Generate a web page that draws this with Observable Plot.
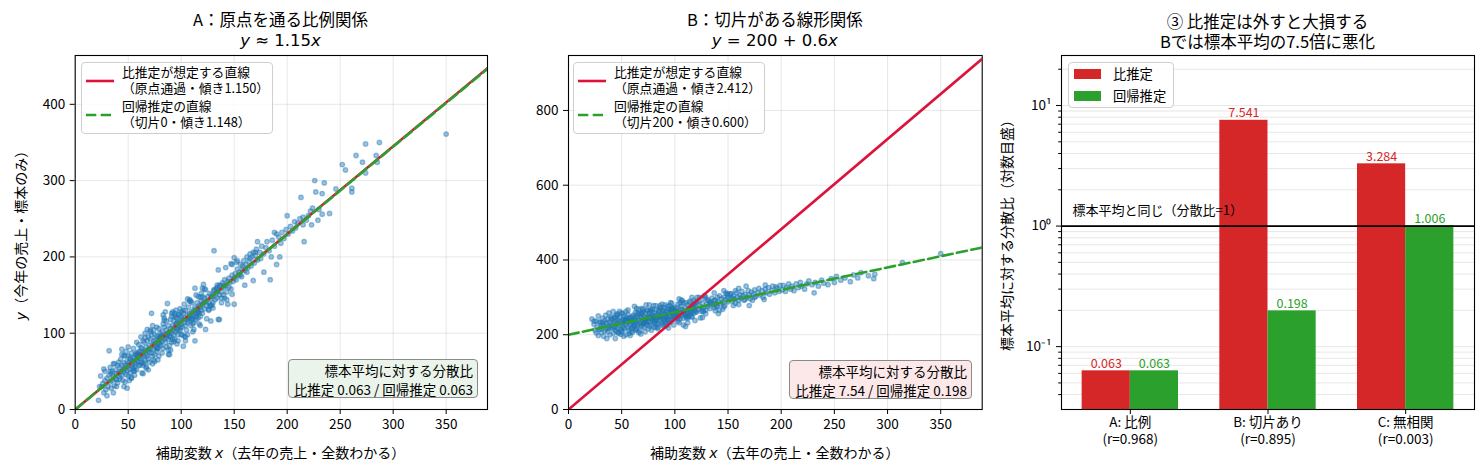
<!DOCTYPE html>
<html><head><meta charset="utf-8">
<script src="https://cdn.jsdelivr.net/npm/d3@7"></script>
<script src="https://cdn.jsdelivr.net/npm/@observablehq/plot@0.6"></script>
<style>
body{margin:0;background:#fff;font-family:"Noto Sans CJK JP",sans-serif;color:#000;}
#root{position:relative;width:1484px;height:473px;overflow:hidden;}
.p{position:absolute;top:0;}
.t{position:absolute;transform:translate(-50%,-50%);white-space:nowrap;line-height:1;}
.ttl{font-size:16.5px;}
.math{font-family:"DejaVu Sans";font-size:16.5px;}
.m{font-family:"DejaVu Sans";font-style:italic;}
.lab{font-size:14px;}
.rot{transform:translate(-50%,-50%) rotate(-90deg);}
.legend{position:absolute;border:1px solid #cfcfcf;border-radius:4px;background:rgba(255,255,255,0.85);font-size:12.8px;line-height:16px;}
.legend .row{position:absolute;white-space:nowrap;}
.note{position:absolute;border:1px solid #8a8a8a;border-radius:4px;font-size:13.5px;line-height:18.5px;text-align:right;box-sizing:border-box;padding:1px 4px 0 0;white-space:nowrap;}
</style></head><body><div id="root"></div><script>
// ---------- data ----------
const titlesA = ["A：原点を通る比例関係", "<i>y</i> ≈ 1.15<i>x</i>"];
const titlesB = ["B：切片がある線形関係", "<i>y</i> = 200 + 0.6<i>x</i>"];
const titlesC = ["③ 比推定は外すと大損する", "Bでは標本平均の7.5倍に悪化"];
const xLabel = "補助変数 <span class='m'>x</span>（去年の売上・全数わかる）";
const yLabelA = "<span class='m'>y</span>（今年の売上・標本のみ）";
const yLabelC = "標本平均に対する分散比（対数目盛）";

const xTicks = [0, 50, 100, 150, 200, 250, 300, 350];
const yTicksA = [0, 100, 200, 300, 400];
const yTicksB = [0, 200, 400, 600, 800];

// fitted lines: [slope, intercept]
const ratioLineA = [1.150, 0];
const regLineA = [1.148, 0];
const ratioLineB = [2.412, 0];
const regLineB = [0.600, 200];

const legendA = [["比推定が想定する直線", "（原点通過・傾き1.150）"], ["回帰推定の直線", "（切片0・傾き1.148）"]];
const legendB = [["比推定が想定する直線", "（原点通過・傾き2.412）"], ["回帰推定の直線", "（切片200・傾き0.600）"]];
const noteA = ["標本平均に対する分散比", "比推定 0.063 / 回帰推定 0.063"];
const noteB = ["標本平均に対する分散比", "比推定 7.54 / 回帰推定 0.198"];

const groupsC = ["A: 比例", "B: 切片あり", "C: 無相関"];
const rValues = [0.968, 0.895, 0.003];
const ratioVar = [0.063, 7.541, 3.284];
const regVar = [0.063, 0.198, 1.006];
const seriesC = ["比推定", "回帰推定"];
const refLabel = "標本平均と同じ（分散比=1）";

const scatterA = [
[22,12],[24,44],[25,30],[27,22],[28,38],[29,26],[30,41],[31,30],[32,77],[32,45],[33,36],[34,28],[35,50],[35,38],[36,44],[37,31],[38,52],[38,40],[39,47],[40,35],[40,58],[26,34],[30,18],[34,47],[37,60],[39,30],[23,30],[36,22],[33,55],[28,50],
[41,48],[41,62],[42,40],[42,55],[43,50],[43,66],[44,45],[44,58],[45,52],[45,38],[46,61],[46,49],[47,54],[47,70],[48,46],[48,58],[49,63],[49,51],[50,57],[50,44],[50,70],[51,62],[51,53],[52,48],[52,66],[53,59],[53,74],[54,55],[54,64],[55,68],[55,50],[55,80],[56,62],[56,56],[57,71],[57,60],[58,52],[58,66],[59,75],[59,63],[60,58],[60,70],[60,85],[51,38],[56,45],[44,72],[48,76],[58,88],[53,42],[46,30],
[61,67],[61,76],[62,62],[62,72],[63,80],[63,68],[64,58],[64,75],[65,70],[65,88],[66,77],[66,64],[67,82],[67,72],[68,70],[68,90],[69,78],[69,66],[70,84],[70,75],[70,62],[71,80],[71,92],[72,126],[72,74],[73,85],[73,70],[74,90],[74,79],[75,86],[75,72],[75,98],[76,82],[76,91],[77,76],[77,96],[78,88],[78,80],[79,94],[79,70],[80,86],[80,100],[80,92],[62,95],[66,100],[69,52],[73,60],[77,108],[64,90],[71,104],[78,65],[67,54],[74,104],[79,106],[63,48],
[81,95],[81,84],[82,102],[82,90],[83,96],[83,80],[84,92],[84,108],[85,98],[85,88],[86,104],[86,94],[87,139],[87,100],[88,92],[88,110],[89,102],[89,96],[90,106],[90,95],[90,118],[91,100],[91,88],[92,110],[92,104],[93,98],[93,116],[94,108],[94,92],[95,112],[95,102],[96,120],[96,106],[97,98],[97,114],[98,110],[98,124],[99,104],[99,116],[100,112],[100,122],[100,98],[84,120],[88,78],[92,128],[96,86],[99,132],[86,116],[94,126],[82,74],[91,122],[97,90],[83,112],[89,84],[95,130],
[101,118],[101,108],[102,83],[102,126],[103,114],[103,120],[104,110],[104,130],[105,118],[105,104],[106,124],[106,114],[107,120],[107,134],[108,116],[108,126],[109,122],[109,110],[110,128],[110,118],[110,140],[111,124],[111,112],[112,130],[112,121],[113,90],[113,134],[114,126],[114,118],[115,132],[115,140],[116,128],[116,120],[117,136],[117,126],[118,134],[118,122],[119,142],[119,130],[120,138],[120,126],[104,95],[108,142],[112,105],[116,148],[106,98],[118,110],[103,138],[114,150],[120,148],
[121,140],[122,132],[122,146],[123,105],[124,142],[124,136],[125,148],[126,140],[126,130],[127,152],[128,146],[128,136],[129,150],[130,148],[130,140],[131,208],[131,156],[132,144],[133,152],[134,160],[134,146],[135,118],[135,156],[136,150],[137,162],[138,154],[138,146],[139,166],[140,160],[140,150],[141,170],[142,162],[143,154],[144,168],[145,160],[145,172],[146,166],[147,158],[148,176],[149,168],[150,138],[150,172],[136,118],[142,186],[148,190],
[151,178],[152,170],[153,184],[154,176],[155,180],[156,190],[157,174],[158,184],[159,195],[160,182],[161,190],[162,200],[163,186],[164,194],[165,198],[166,188],[167,200],[168,206],[169,192],[170,202],[171,210],[172,196],[174,206],[175,198],[176,214],[178,204],[180,212],[181,220],[183,208],[184,170],[186,222],[188,214],[190,190],[192,226],[194,218],[195,232],[197,224],[199,236],[193,200],[188,232],
[201,230],[203,240],[205,234],[207,246],[208,238],[210,244],[212,250],[213,278],[215,252],[216,220],[218,248],[220,254],[222,260],[223,242],[224,264],[226,300],[227,285],[229,248],[230,262],[233,256],[233,283],[235,297],[240,257],[246,289],[252,321],[255,314],[261,290],[261,285],[265,333],[271,324],[274,348],[274,310],[284,333],[285,324],[287,350],[350,361],
[33,50],[47,36],[58,72],[64,47],[71,102],[77,80],[85,128],[92,92],[96,113],[103,96],[109,142],[115,126],[121,164],[128,116],[134,163],[141,146],[147,191],[156,176],[165,204],[178,180],
[52,68],[61,58],[68,105],[74,65],[81,97],[88,72],[94,123],[99,107],[106,145],[112,114],[118,147],[124,119],[131,157],[138,140],[44,79],[55,53],[66,94],[79,87],[90,78],[100,128],
[110,119],[120,159],[130,133],[140,163],[150,199],[160,163],[170,206],[185,200],[200,254],[215,242],[36,60],[49,28],[57,73],[63,61],[69,95],[75,63],[83,124],[87,98],[93,89],[98,125],
[104,90],[108,144],[114,122],[119,152],[126,131],[133,158],[143,144],[152,193],[162,180],[172,220],
[27,53],[39,39],[46,71],[53,41],[59,73],[65,61],[72,98],[78,81],[84,117],[89,72],[95,121],[101,98],[107,121],[113,159],[117,112],[123,157],[129,137],[136,163],[144,138],[153,195],
[42,43],[50,82],[56,51],[62,81],[67,56],[73,110],[80,94],[86,82],[91,126],[97,104],[102,130],[111,102],[116,129],[122,158],[127,136],[135,183],[148,151],[158,188],[168,169],[190,230]
];

const scatterB = [
[22,242],[24,228],[25,212],[26,236],[27,220],[28,198],[28,250],[29,214],[30,232],[31,206],[32,244],[33,224],[33,196],[34,238],[35,216],[35,252],[36,230],[37,208],[37,242],[38,222],[39,234],[39,200],[40,226],[40,248],[26,205],[31,226],[36,190],[38,258],[30,216],[34,210],
[41,218],[41,240],[42,230],[42,204],[43,246],[43,222],[44,236],[44,212],[45,228],[45,252],[46,218],[46,240],[47,232],[47,206],[48,246],[48,224],[49,236],[49,214],[50,230],[50,258],[50,208],[51,240],[51,222],[52,234],[52,250],[53,216],[53,242],[54,228],[54,200],[55,246],[55,232],[56,220],[56,254],[57,236],[57,212],[58,244],[58,226],[59,238],[59,218],[60,248],[60,230],[60,206],[44,190],[48,262],[52,196],[56,266],[58,198],[46,256],[54,262],[42,262],
[61,236],[61,252],[62,226],[62,244],[63,238],[63,260],[64,232],[64,214],[65,248],[65,226],[66,240],[66,256],[67,230],[67,210],[68,246],[68,236],[69,222],[69,256],[70,242],[70,230],[70,262],[71,248],[71,220],[72,238],[72,258],[73,232],[73,244],[74,226],[74,264],[75,250],[75,236],[75,216],[76,244],[76,258],[77,234],[77,248],[78,226],[78,262],[79,240],[79,252],[80,236],[80,248],[80,220],[62,276],[66,206],[69,270],[72,208],[76,280],[78,212],[64,270],[73,280],[68,202],[79,268],[63,212],[71,230],
[81,244],[81,258],[82,236],[82,252],[83,266],[83,242],[84,230],[84,254],[85,246],[85,262],[86,238],[86,250],[87,270],[87,244],[88,256],[88,232],[89,248],[89,264],[90,240],[90,256],[90,272],[91,250],[91,234],[92,262],[92,246],[93,254],[93,276],[94,240],[94,262],[95,252],[95,232],[96,266],[96,248],[97,258],[97,240],[98,270],[98,252],[99,246],[99,262],[100,256],[100,242],[100,274],[84,216],[88,282],[92,224],[96,286],[99,226],[86,278],[94,218],[82,220],[91,280],[97,284],[83,228],[89,224],[95,278],
[101,262],[101,248],[102,270],[102,254],[103,244],[103,282],[104,260],[104,250],[105,268],[105,242],[106,258],[106,276],[107,252],[107,266],[108,286],[108,244],[109,262],[109,256],[110,272],[110,250],[111,264],[111,246],[112,280],[112,258],[113,268],[113,252],[114,262],[114,290],[115,256],[115,274],[116,264],[116,248],[117,280],[117,270],[118,258],[118,292],[119,266],[119,276],[120,260],[120,284],[122,268],[123,290],[124,276],[125,262],[126,284],[127,272],[128,296],[129,266],[130,282],[108,226],[112,232],[104,296],[116,300],[110,222],[121,300],[126,246],[119,238],[129,300],
[131,276],[132,290],[133,270],[134,284],[135,298],[136,280],[137,272],[138,292],[139,284],[140,300],[140,276],[141,288],[142,304],[143,282],[144,296],[145,286],[146,300],[147,278],[148,294],[149,308],[150,288],[150,300],[152,296],[153,310],[154,290],[155,304],[156,296],[157,284],[158,312],[159,300],[160,292],[161,306],[162,298],[163,316],[164,304],[165,292],[166,308],[168,300],[169,318],[170,306],[171,296],[172,314],[174,308],[175,320],[176,302],[178,312],[179,324],[180,306],[182,318],[183,300],[185,322],[186,312],[188,326],[189,308],[191,318],[192,330],[194,312],[196,324],[198,316],[199,332],[137,312],[146,318],[160,324],[167,330],[155,278],[145,268],[173,292],[184,294],
[201,320],[202,332],[204,316],[205,326],[207,336],[209,322],[210,330],[212,318],[214,336],[216,326],[218,340],[219,330],[222,322],[224,336],[226,344],[229,334],[231,312],[232,340],[235,330],[238,346],[240,338],[244,334],[247,350],[250,340],[252,356],[256,346],[260,352],[265,342],[268,360],[272,352],[275,366],[282,358],[287,350],[288,362],[314,393],[350,417],
[29,234],[43,220],[51,256],[57,203],[63,247],[68,225],[74,266],[79,244],[85,265],[91,230],[96,266],[102,249],[107,291],[113,248],[118,275],[124,245],[131,294],[139,276],[148,312],[160,281],
[35,232],[47,204],[54,238],[60,217],[66,268],[71,233],[77,264],[83,246],[88,227],[94,269],[99,251],[105,284],[111,250],[117,272],[123,300],[129,256],[137,292],[146,275],[157,318],[175,300],
[40,243],[49,201],[56,241],[62,226],[69,257],[76,223],[82,278],[87,250],[93,238],[98,271],[104,232],[110,286],[115,260],[121,288],[127,262],[134,285],[142,265],[152,309],[166,294],[185,333],
[32,231],[45,209],[53,237],[59,208],[65,259],[72,234],[80,278],[90,240],[101,264],[116,248],
[24,236],[37,216],[44,244],[50,210],[55,238],[61,223],[67,255],[73,235],[78,267],[84,220],[89,265],[95,239],[100,258],[106,293],[112,244],[119,287],[126,265],[133,287],[141,257],[150,309],
[39,218],[46,252],[52,218],[58,245],[64,217],[70,268],[75,247],[81,232],[86,273],[92,247],[97,271],[103,236],[109,261],[114,286],[120,262],[128,305],[138,264],[154,298],[170,278],[195,328]
];

// ---------- styling constants ----------
const BLUE = "#1f77b4", CRIMSON = "#dc143c", GREEN = "#2ca02c", BAR_RED = "#d62728";
const xDom = [0, 389];
const baseStyle = {fontFamily: "Noto Sans CJK JP", fontSize: "13.5px", color: "#000", background: "transparent", overflow: "visible"};
const gridOpts = {stroke: "#b0b0b0", strokeOpacity: 0.35, strokeWidth: 0.9};

const root = document.getElementById("root");
function place(el, left) { el.classList.add("p"); el.style.left = left + "px"; root.appendChild(el); }
function addHTML(html) { root.insertAdjacentHTML("beforeend", html); }

function scatterPanel(points, yDom, yTicks, ratioCoef, regCoef, mLeft, mRight) {
  const lineData = c => xDom.map(x => ({x, y: c[1] + c[0] * x}));
  return Plot.plot({
    width: 500, height: 473,
    marginLeft: mLeft, marginRight: mRight, marginTop: 55, marginBottom: 64,
    style: baseStyle,
    x: {domain: xDom, ticks: xTicks, label: null, tickSize: 5, tickPadding: 5},
    y: {domain: yDom, ticks: yTicks, label: null, tickSize: 5, tickPadding: 5},
    marks: [
      Plot.gridX(xTicks, gridOpts),
      Plot.gridY(yTicks, gridOpts),
      Plot.dot(points, {x: d => d[0], y: d => d[1], r: 2.3, fill: BLUE, fillOpacity: 0.44, stroke: BLUE, strokeOpacity: 0.44, strokeWidth: 1.3}),
      Plot.line(lineData(ratioCoef), {x: "x", y: "y", stroke: CRIMSON, strokeWidth: 2.6, clip: true}),
      Plot.line(lineData(regCoef), {x: "x", y: "y", stroke: GREEN, strokeWidth: 2.6, strokeDasharray: "10.3,4.4", clip: true}),
      Plot.frame({stroke: "#000", strokeWidth: 1.1})
    ]
  });
}

// Panel A
place(scatterPanel(scatterA, [0, 464], yTicksA, ratioLineA, regLineA, 74.7, 13), 0);
// Panel B
place(scatterPanel(scatterB, [0, 947], yTicksB, ratioLineB, regLineB, 78, 8.3), 490);

// Panel C
const yDomC = [0.0301, 26];
const barW = 0.35;
const barsC = groupsC.flatMap((g, i) => [
  {i, s: 0, v: ratioVar[i], x1: i - barW, x2: i, c: BAR_RED},
  {i, s: 1, v: regVar[i], x1: i, x2: i + barW, c: GREEN}
]);
const majorC = [0.1, 1, 10];
const minorC = [];
for (let e = -2; e <= 1; e++) for (let m = 2; m <= 9; m++) { const v = +(m * Math.pow(10, e)).toPrecision(3); if (v >= yDomC[0] && v <= yDomC[1]) minorC.push(v); }
const supers = {"-1": "10⁻¹", "0": "10⁰", "1": "10¹"};
const groupIdx = groupsC.map((g, i) => i);
const plotC = Plot.plot({
  width: 494, height: 473,
  marginLeft: 71, marginRight: 10, marginTop: 55, marginBottom: 64,
  style: baseStyle,
  x: {type: "linear", domain: [-0.5, 2.5]},
  y: {type: "log", domain: yDomC},
  marks: [
    Plot.gridY(minorC, gridOpts),
    Plot.gridY(majorC, gridOpts),
    Plot.rect(barsC, {x1: "x1", x2: "x2", y1: () => yDomC[0], y2: "v", fill: "c"}),
    Plot.ruleY([1], {stroke: "#000", strokeWidth: 1.7}),
    Plot.text(barsC, {x: d => (d.x1 + d.x2) / 2, y: "v", text: d => d.v.toFixed(3), fill: "c", lineAnchor: "bottom", dy: -3, fontSize: 12.5}),
    Plot.text([refLabel], {frameAnchor: "left", y: () => 1, text: d => d, textAnchor: "start", lineAnchor: "bottom", dx: 11, dy: -11, fontSize: 13, fill: "#000"}),
    Plot.frame({stroke: "#000", strokeWidth: 1.1}),
    Plot.axisX(groupIdx, {tickSize: 5, tickPadding: 3, label: null, tickFormat: i => groupsC[i]}),
    Plot.axisX(groupIdx, {tickSize: 0, tickPadding: 25, label: null, tickFormat: i => `(r=${rValues[i].toFixed(3)})`}),
    Plot.axisY(majorC, {tickSize: 5, tickPadding: 5, label: null, tickFormat: v => supers[String(Math.round(Math.log10(v)))]}),
    Plot.axisY(minorC, {tickSize: 2.8, label: null, tickFormat: () => ""})
  ]
});
place(plotC, 990);

// ---------- titles & labels ----------
function titles(cx, t) {
  addHTML(`<div class="t ttl" style="left:${cx}px;top:19px">${t[0]}</div>`);
  addHTML(`<div class="t math" style="left:${cx}px;top:41px">${t[1]}</div>`);
}
titles(280.5, titlesA);
titles(774.8, titlesB);
addHTML(`<div class="t ttl" style="left:1267.5px;top:21px">${titlesC[0]}</div>`);
addHTML(`<div class="t ttl" style="left:1267.5px;top:41px">${titlesC[1]}</div>`);
addHTML(`<div class="t lab" style="left:280.5px;top:452px">${xLabel}</div>`);
addHTML(`<div class="t lab" style="left:774.8px;top:452px">${xLabel}</div>`);
addHTML(`<div class="t lab rot" style="left:20px;top:232px">${yLabelA}</div>`);
addHTML(`<div class="t lab rot" style="left:1006px;top:232px">${yLabelC}</div>`);

// ---------- legends ----------
function lineLegend(left, entries) {
  const rows = entries.map((e, k) => {
    const top = k === 0 ? 1 : 35;
    const dash = k === 0 ? "" : 'stroke-dasharray="10.3,4.4"';
    const col = k === 0 ? CRIMSON : GREEN;
    return `<svg style="position:absolute;left:3px;top:${top + 13}px" width="30" height="8"><line x1="1" x2="29" y1="4" y2="4" stroke="${col}" stroke-width="2.6" ${dash}/></svg>` +
      `<div class="row" style="left:40px;top:${top}px">${e[0]}<br>${e[1]}</div>`;
  }).join("");
  addHTML(`<div class="legend" style="left:${left}px;top:62px;width:190px;height:70px">${rows}</div>`);
}
lineLegend(81, legendA);
lineLegend(573, legendB);

addHTML(`<div class="legend" style="left:1068px;top:62px;width:104px;height:44px;font-size:13.3px">
  <div style="position:absolute;left:5px;top:6px;width:27px;height:10px;background:${BAR_RED}"></div>
  <div class="row" style="left:44px;top:3px">${seriesC[0]}</div>
  <div style="position:absolute;left:5px;top:28px;width:27px;height:10px;background:${GREEN}"></div>
  <div class="row" style="left:44px;top:25px">${seriesC[1]}</div>
</div>`);

// ---------- notes ----------
addHTML(`<div class="note" style="left:288px;top:359px;width:190px;height:39px;background:#eaf4ea">${noteA[0]}<br>${noteA[1]}</div>`);
addHTML(`<div class="note" style="left:789px;top:360px;width:183px;height:39px;background:#fce8e8">${noteB[0]}<br>${noteB[1]}</div>`);
</script></body></html>
